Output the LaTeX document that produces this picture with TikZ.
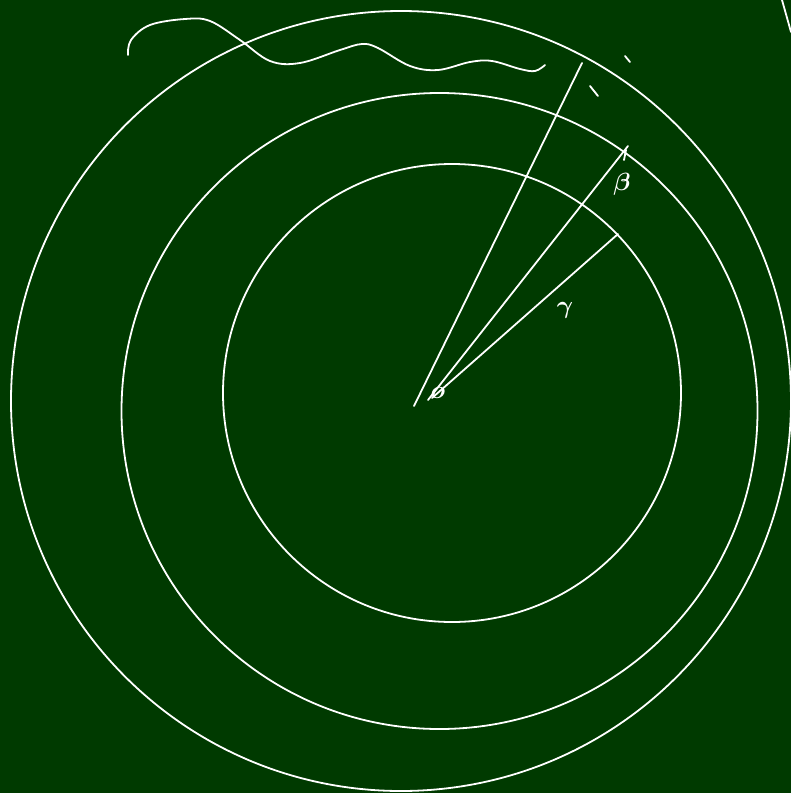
\documentclass[tikz,border=0pt]{standalone}
\begin{document}
\begin{tikzpicture}[x=1pt,y=-1pt,
  chalk/.style={draw=white,line width=1.8pt,line cap=round,line join=round},
  lbl/.style={text=white,inner sep=0pt,font=\fontsize{26}{28}\selectfont\boldmath}]
\definecolor{board}{RGB}{0,58,0}
\fill[board] (0,0) rectangle (791,793);
\useasboundingbox (0,0) rectangle (791,793);
% circles
\draw[chalk] (401,401) circle[radius=390];
\draw[chalk] (439.5,411) circle[radius=318];
\draw[chalk] (452,393) circle[radius=229];
% rays
\coordinate (o1) at (414,406);
\coordinate (e1) at (582,63);
\coordinate (o2) at (428,400);
\coordinate (e2) at (628,146);
\coordinate (o3) at (432,398);
\coordinate (e3) at (618,234);
\draw[chalk] (o1) -- (e1);
\draw[chalk] (o2) -- (e2);
\draw[chalk] (o3) -- (e3);
\draw[chalk] (626,150) -- (624,160);
% ticks
\draw[chalk] (590,86) -- (598,96);
\draw[chalk] (625,56) -- (630,62);
% edge arc
\draw[chalk] (782,0) -- (791,32);
% wavy line
\draw[chalk] plot[smooth,tension=0.6] coordinates {(128,55) (131,40) (150,25) (185,19) (210,21) (240,40) (270,61) (300,63) (340,50) (362,44) (378,48) (410,66) (438,70) (470,62) (492,61) (520,69) (535,71) (545,65)};
% labels
\node[lbl] (lo) at (438,393) {$o$};
\node[lbl] (lg) at (565,310) {$\gamma$};
\node[lbl] (lb) at (622,184) {$\beta$};
\end{tikzpicture}
\end{document}
